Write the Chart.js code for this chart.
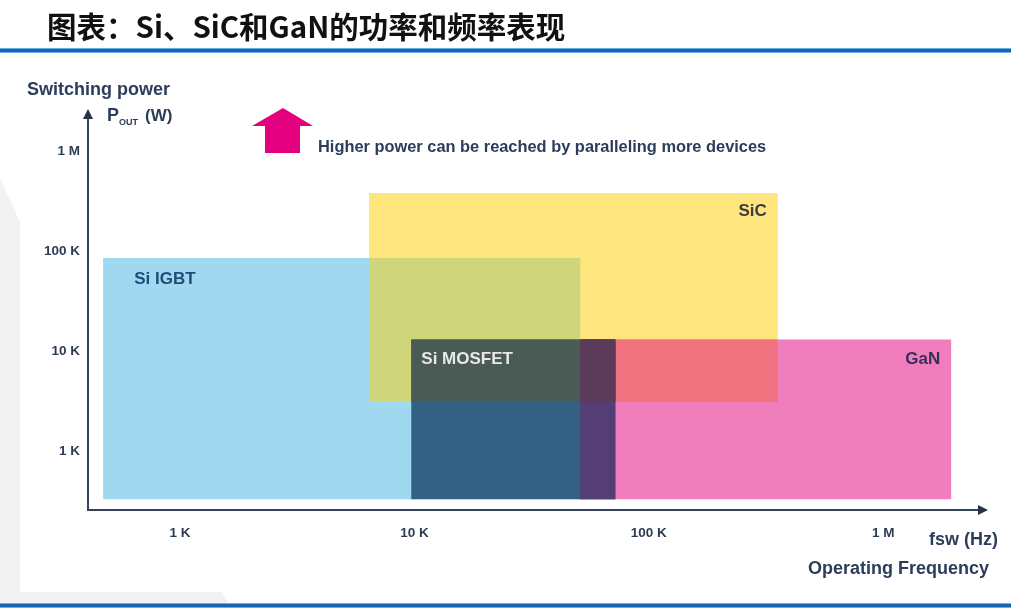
<!DOCTYPE html>
<html>
<head>
<meta charset="utf-8">
<script src="https://cdn.jsdelivr.net/npm/chart.js@4.4.1/dist/chart.umd.min.js"></script>
<style>
  html, body { margin: 0; padding: 0; background: #ffffff; }
  #wrap { width: 1011px; height: 611px; position: relative; }
</style>
</head>
<body>
<div id="wrap"><canvas id="powerChart"></canvas></div>
<script>
// axis ticks
const xTickValues = [1e3, 1e4, 1e5, 1e6];
const xTickLabels = ['1 K', '10 K', '100 K', '1 M'];
const yTickValues = [1e3, 1e4, 1e5, 1e6];
const yTickLabels = ['1 K', '10 K', '100 K', '1 M'];

// device operating ranges
const devices = ['Si IGBT', 'SiC', 'Si MOSFET', 'GaN'];
const freqMin = [470, 6400, 9700, 51000];      // Hz
const freqMax = [51000, 355000, 72000, 1950000];
const powerMin = [330, 3100, 330, 330];        // W
const powerMax = [85000, 380000, 13000, 13000];

// drawing layers: which devices overlap, and the colour seen there
const layers = [
    { ids: [0], color: '#a0d8f0' },
    { ids: [1], color: '#fee57d' },
    { ids: [0, 1], color: '#cfd57a' },
    { ids: [3], color: '#f07ebc' },
    { ids: [1, 3], color: '#f0737f' },
    { ids: [2], color: '#336185' },
    { ids: [1, 2], color: '#4a5b55' },
    { ids: [2, 3], color: '#553e73' },
    { ids: [1, 2, 3], color: '#5b3a5a' }
];

const labelStyle = [
    { color: '#1f4c7a', align: 'left' },
    { color: '#3c3c44', align: 'right' },
    { color: '#e8e8e8', align: 'left' },
    { color: '#3a2e5c', align: 'right' }
];

function boxOf(ids) {
    const x0 = Math.max(...ids.map(i => freqMin[i]));
    const x1 = Math.min(...ids.map(i => freqMax[i]));
    const y0 = Math.max(...ids.map(i => powerMin[i]));
    const y1 = Math.min(...ids.map(i => powerMax[i]));
    if (x0 >= x1 || y0 >= y1) return [];
    return [
        { x: x0, y: y0 }, { x: x1, y: y0 }, { x: x1, y: y1 },
        { x: x0, y: y1 }, { x: x0, y: y0 }
    ];
}

const datasets = layers.map((l, i) => ({
    label: l.ids.map(k => devices[k]).join(' + '),
    data: boxOf(l.ids),
    backgroundColor: l.color,
    borderColor: 'transparent',
    borderWidth: 0,
    pointRadius: 0,
    tension: 0,
    fill: 'shape',
    order: layers.length - i
}));

const FONT = "'Liberation Sans', Arial, sans-serif";
const NAVY = '#2b3d5a';

function arrowHead(ctx, x, y, dir) {
    ctx.beginPath();
    if (dir === 'up') {
        ctx.moveTo(x, y);
        ctx.lineTo(x - 5, y + 10);
        ctx.lineTo(x + 5, y + 10);
    } else {
        ctx.moveTo(x, y);
        ctx.lineTo(x - 10, y - 5);
        ctx.lineTo(x - 10, y + 5);
    }
    ctx.closePath();
    ctx.fill();
}

const decor = {
    id: 'decor',
    beforeDraw(chart) {
        const ctx = chart.ctx;
        ctx.save();
        ctx.fillStyle = '#ffffff';
        ctx.fillRect(0, 0, chart.width, chart.height);
        // faint grey page shape behind the chart
        ctx.fillStyle = '#f2f2f2';
        ctx.beginPath();
        ctx.moveTo(0, 178);
        ctx.lineTo(20, 222);
        ctx.lineTo(20, 592);
        ctx.lineTo(222, 592);
        ctx.lineTo(228, 603);
        ctx.lineTo(0, 603);
        ctx.closePath();
        ctx.fill();
        ctx.restore();
    },
    afterDraw(chart) {
        const ctx = chart.ctx;
        const a = chart.chartArea;
        const xs = chart.scales.x, ys = chart.scales.y;
        ctx.save();

        // axes with arrow heads
        ctx.strokeStyle = '#34425c';
        ctx.fillStyle = '#26314a';
        ctx.lineWidth = 2;
        ctx.beginPath();
        ctx.moveTo(a.left, a.top + 8);
        ctx.lineTo(a.left, a.bottom);
        ctx.lineTo(a.right - 8, a.bottom);
        ctx.stroke();
        arrowHead(ctx, a.left, a.top, 'up');
        arrowHead(ctx, a.right, a.bottom, 'right');

        // device labels, placed from each box corner
        ctx.font = 'bold 17px ' + FONT;
        ctx.textBaseline = 'middle';
        devices.forEach((name, i) => {
            const st = labelStyle[i];
            const top = ys.getPixelForValue(powerMax[i]);
            ctx.fillStyle = st.color;
            if (st.align === 'left') {
                ctx.textAlign = 'left';
                const left = xs.getPixelForValue(freqMin[i]);
                ctx.fillText(name, left + (i === 0 ? 31 : 10), top + (i === 0 ? 21 : 20));
            } else {
                ctx.textAlign = 'right';
                const right = xs.getPixelForValue(freqMax[i]);
                ctx.fillText(name, right - 11, top + (i === 1 ? 18 : 20));
            }
        });

        // axis titles
        ctx.fillStyle = NAVY;
        ctx.textAlign = 'left';
        ctx.font = 'bold 18px ' + FONT;
        ctx.fillText('Switching power', 27, 90);
        ctx.fillText('P', 107, 116);
        ctx.font = 'bold 9px ' + FONT;
        ctx.fillText('OUT', 119, 123);
        ctx.font = 'bold 17px ' + FONT;
        ctx.fillText('(W)', 145, 116);
        ctx.textAlign = 'right';
        ctx.font = 'bold 18px ' + FONT;
        ctx.fillText('fsw (Hz)', 998, 540);
        ctx.fillText('Operating Frequency', 989, 569);

        // pink arrow note
        ctx.fillStyle = '#e4007f';
        ctx.beginPath();
        ctx.moveTo(283, 108);
        ctx.lineTo(313, 126);
        ctx.lineTo(300, 126);
        ctx.lineTo(300, 153);
        ctx.lineTo(265, 153);
        ctx.lineTo(265, 126);
        ctx.lineTo(252, 126);
        ctx.closePath();
        ctx.fill();
        ctx.fillStyle = NAVY;
        ctx.textAlign = 'left';
        ctx.font = 'bold 16.4px ' + FONT;
        ctx.fillText('Higher power can be reached by paralleling more devices', 318, 147);

        // page title and rules
        ctx.fillStyle = '#111111';
        ctx.font = "bold 29.5px 'Noto Sans CJK SC', sans-serif";
        ctx.textBaseline = 'middle';
        ctx.fillText('图表：Si、SiC和GaN的功率和频率表现', 47, 27);
        ctx.fillStyle = '#6aaee6';
        ctx.fillRect(0, 48, chart.width, 5);
        ctx.fillRect(0, 603, chart.width, 5);
        ctx.fillStyle = '#1666b4';
        ctx.fillRect(0, 49, chart.width, 3);
        ctx.fillRect(0, 604, chart.width, 3);
        ctx.restore();
    }
};

new Chart(document.getElementById('powerChart'), {
    type: 'line',
    data: { datasets: datasets },
    options: {
        responsive: true,
        maintainAspectRatio: false,
        animation: false,
        events: [],
        layout: { padding: { top: 109, right: 23, left: 0, bottom: 0 } },
        plugins: {
            legend: { display: false },
            title: { display: false },
            tooltip: { enabled: false }
        },
        scales: {
            x: {
                type: 'logarithmic',
                min: 405,
                max: 2800000,
                grid: { display: false },
                border: { display: false },
                afterFit: s => { s.height = 101; },
                afterBuildTicks: s => { s.ticks = xTickValues.map(v => ({ value: v })); },
                ticks: {
                    autoSkip: false,
                    maxRotation: 0,
                    padding: 7,
                    color: '#2e3c56',
                    font: { family: FONT, size: 13.5, weight: 'bold' },
                    callback: (v, i) => xTickLabels[i]
                }
            },
            y: {
                type: 'logarithmic',
                min: 257,
                max: 2630000,
                grid: { display: false },
                border: { display: false },
                afterFit: s => { s.width = 88; },
                afterBuildTicks: s => { s.ticks = yTickValues.map(v => ({ value: v })); },
                ticks: {
                    autoSkip: false,
                    padding: 0,
                    color: '#2e3c56',
                    font: { family: FONT, size: 13.5, weight: 'bold' },
                    callback: (v, i) => yTickLabels[i]
                }
            }
        }
    },
    plugins: [decor]
});
</script>
</body>
</html>
